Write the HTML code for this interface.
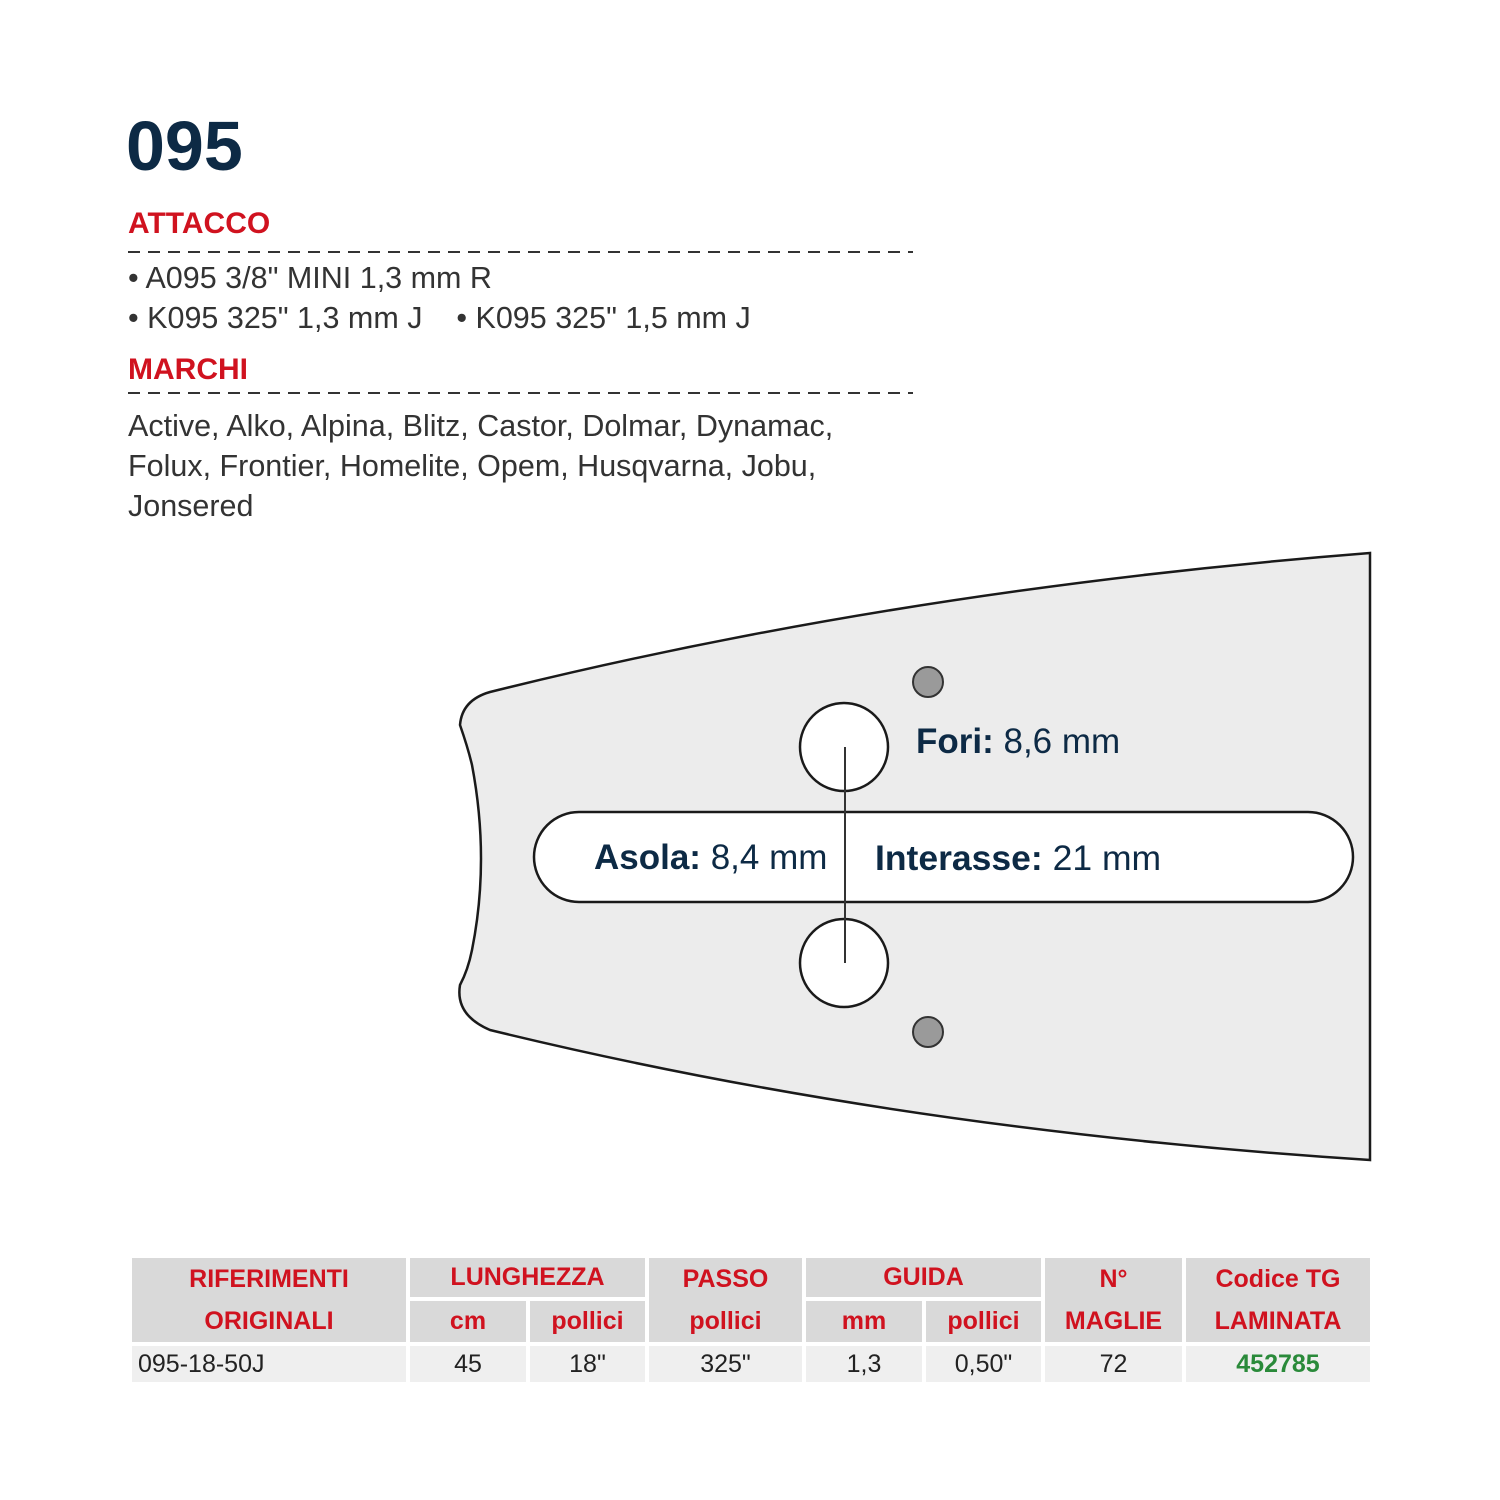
<!DOCTYPE html>
<html><head><meta charset="utf-8"><style>
body{margin:0;width:1500px;height:1500px;background:#fff;position:relative;font-family:"Liberation Sans",Arial,sans-serif;overflow:hidden}
.a{position:absolute;white-space:nowrap}
.t{color:#333;font-size:30.5px}
.red{color:#d0121f;font-weight:bold;font-size:30px}
table{position:absolute;left:128px;top:1254px;border-collapse:collapse;width:1242px;table-layout:fixed}
td{text-align:center;padding:0;font-size:25px}
td.h{background:#d9d9d9;color:#d0121f;font-weight:bold;border:4px solid #fff}
td.d{background:#efefef;color:#222;border:4px solid #fff;border-top:0;height:36px}
</style></head><body>
<div class="a" style="left:126px;top:106px;font-size:70px;font-weight:bold;color:#0d2a45">095</div>
<div class="a red" style="left:128px;top:207px">ATTACCO</div>
<div class="a t" style="left:128px;top:261px">• A095 3/8" MINI 1,3 mm R</div>
<div class="a t" style="left:128px;top:301px">• K095 325" 1,3 mm J &nbsp;&nbsp;&nbsp;• K095 325" 1,5 mm J</div>
<div class="a red" style="left:128px;top:353px">MARCHI</div>
<div class="a t" style="left:128px;top:406px;line-height:40px">Active, Alko, Alpina, Blitz, Castor, Dolmar, Dynamac,<br>Folux, Frontier, Homelite, Opem, Husqvarna, Jobu,<br>Jonsered</div>
<svg class="a" style="left:0;top:0" width="1500" height="1500">
<line x1="128" y1="252" x2="913" y2="252" stroke="#333" stroke-width="2" stroke-dasharray="12,8"/>
<line x1="128" y1="393" x2="913" y2="393" stroke="#333" stroke-width="2" stroke-dasharray="12,8"/>
<path d="M490,692 Q900,590 1370,553 L1370,1160 Q900,1130 490,1030 Q455,1015 460,985 Q468,970 472,950 Q490,860 472,765 Q468,748 460,725 Q462,700 490,692 Z" fill="#ececec" stroke="#1a1a1a" stroke-width="2.5"/>
<rect x="534" y="812" width="819" height="90" rx="45" fill="#fff" stroke="#1a1a1a" stroke-width="2.5"/>
<circle cx="844" cy="747" r="44" fill="#fff" stroke="#1a1a1a" stroke-width="2.5"/>
<circle cx="844" cy="963" r="44" fill="#fff" stroke="#1a1a1a" stroke-width="2.5"/>
<circle cx="928" cy="682" r="15" fill="#9a9a9a" stroke="#333" stroke-width="2"/>
<circle cx="928" cy="1032" r="15" fill="#9a9a9a" stroke="#333" stroke-width="2"/>
<line x1="845" y1="747" x2="845" y2="963" stroke="#333" stroke-width="2"/>
</svg>
<div class="a" style="left:916px;top:722px;font-size:35px;color:#0d2a45"><b>Fori:</b> 8,6 mm</div>
<div class="a" style="left:594px;top:838px;font-size:35px;color:#0d2a45"><b>Asola:</b> 8,4 mm</div>
<div class="a" style="left:875px;top:838px;font-size:35.5px;color:#0d2a45"><b>Interasse:</b> 21 mm</div>
<table>
<colgroup><col style="width:278px"><col style="width:120px"><col style="width:119px"><col style="width:157px"><col style="width:120px"><col style="width:119px"><col style="width:141px"><col style="width:188px"></colgroup>
<tr><td class="h" rowspan="2" style="line-height:42px">RIFERIMENTI<br>ORIGINALI</td><td class="h" colspan="2" style="height:38px">LUNGHEZZA</td><td class="h" rowspan="2" style="line-height:42px">PASSO<br>pollici</td><td class="h" colspan="2">GUIDA</td><td class="h" rowspan="2" style="line-height:42px">N°<br>MAGLIE</td><td class="h" rowspan="2" style="line-height:42px">Codice TG<br>LAMINATA</td></tr>
<tr><td class="h" style="height:40px">cm</td><td class="h">pollici</td><td class="h">mm</td><td class="h">pollici</td></tr>
<tr><td class="d" style="text-align:left;padding-left:6px">095-18-50J</td><td class="d">45</td><td class="d">18"</td><td class="d">325"</td><td class="d">1,3</td><td class="d">0,50"</td><td class="d">72</td><td class="d" style="color:#2a8a3a;font-weight:bold">452785</td></tr>
</table>
</body></html>
